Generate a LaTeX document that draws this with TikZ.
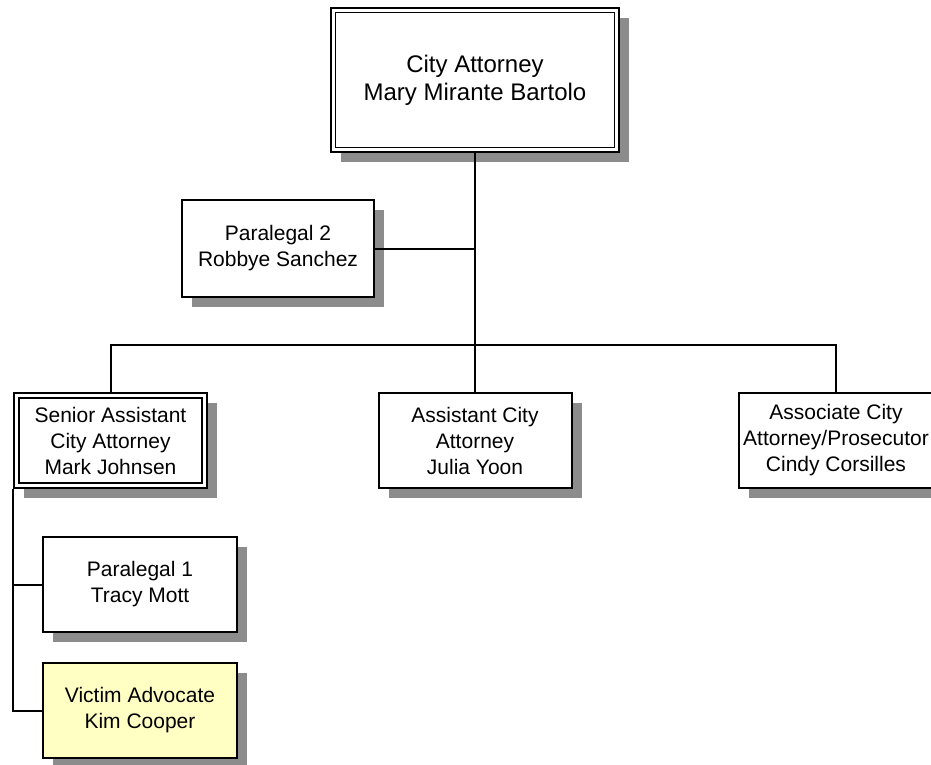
\documentclass[tikz,border=0pt]{standalone}
\usepackage{fontspec}
\setmainfont{Liberation Sans}
\usetikzlibrary{shadows}
\definecolor{shadowgray}{RGB}{140,140,140}
\definecolor{advocatefill}{RGB}{255,255,196}
\begin{document}
\begin{tikzpicture}[x=1pt,y=-1pt,
  orgbox/.style={draw=black, line width=2pt, fill=white, inner sep=0pt,
    align=center, minimum width=194pt, minimum height=95pt,
    font=\fontsize{21}{26}\selectfont,
    drop shadow={shadow xshift=10pt, shadow yshift=-10pt, opacity=1, fill=shadowgray}},
  % a box with a second, thinner frame drawn inside its border
  headbox/.style={orgbox,
    path picture={\draw[line width=1.3pt]
      ([shift={(#1,-#1)}]path picture bounding box.north west) rectangle
      ([shift={(-#1,#1)}]path picture bounding box.south east);}},
  headbox/.default=4.5pt,
  conn/.style={draw=black, line width=2pt}]
  \useasboundingbox (0,0) rectangle (931,765);

  % boxes
  \node[headbox=4.5pt, minimum width=288pt, minimum height=144pt,
        font=\fontsize{24}{28}\selectfont] (ca) at (475,80)
        {City Attorney\\Mary Mirante Bartolo};
  \node[orgbox, minimum width=192pt, minimum height=97pt] (p2) at (278,248.5)
        {Paralegal 2\\Robbye Sanchez};
  \node[headbox=5pt, minimum width=193pt] (sr) at (110.5,440.5)
        {Senior Assistant\\City Attorney\\Mark Johnsen};
  \node[orgbox, minimum width=193pt] (ac) at (475,440.5)
        {Assistant City\\Attorney\\Julia Yoon};
  \node[orgbox] (as) at (836,440.5)
        {Associate City\\Attorney/Prosecutor\\Cindy Corsilles};
  \node[orgbox] (p1) at (140,584.5)
        {Paralegal 1\\Tracy Mott};
  \node[orgbox, fill=advocatefill] (va) at (140,710.5)
        {Victim Advocate\\Kim Cooper};

  % reporting lines
  \coordinate (bus) at (475,345);
  \draw[conn] (ca.south) -- (ac.north);
  \draw[conn] (p2.east) -- (p2.east -| ca.south);
  \draw[conn] (sr.north) |- (as.north |- bus) -- (as.north);
  \draw[conn] (sr.south west) |- (va.west);
  \draw[conn] (sr.south west |- p1.west) -- (p1.west);
\end{tikzpicture}
\end{document}
